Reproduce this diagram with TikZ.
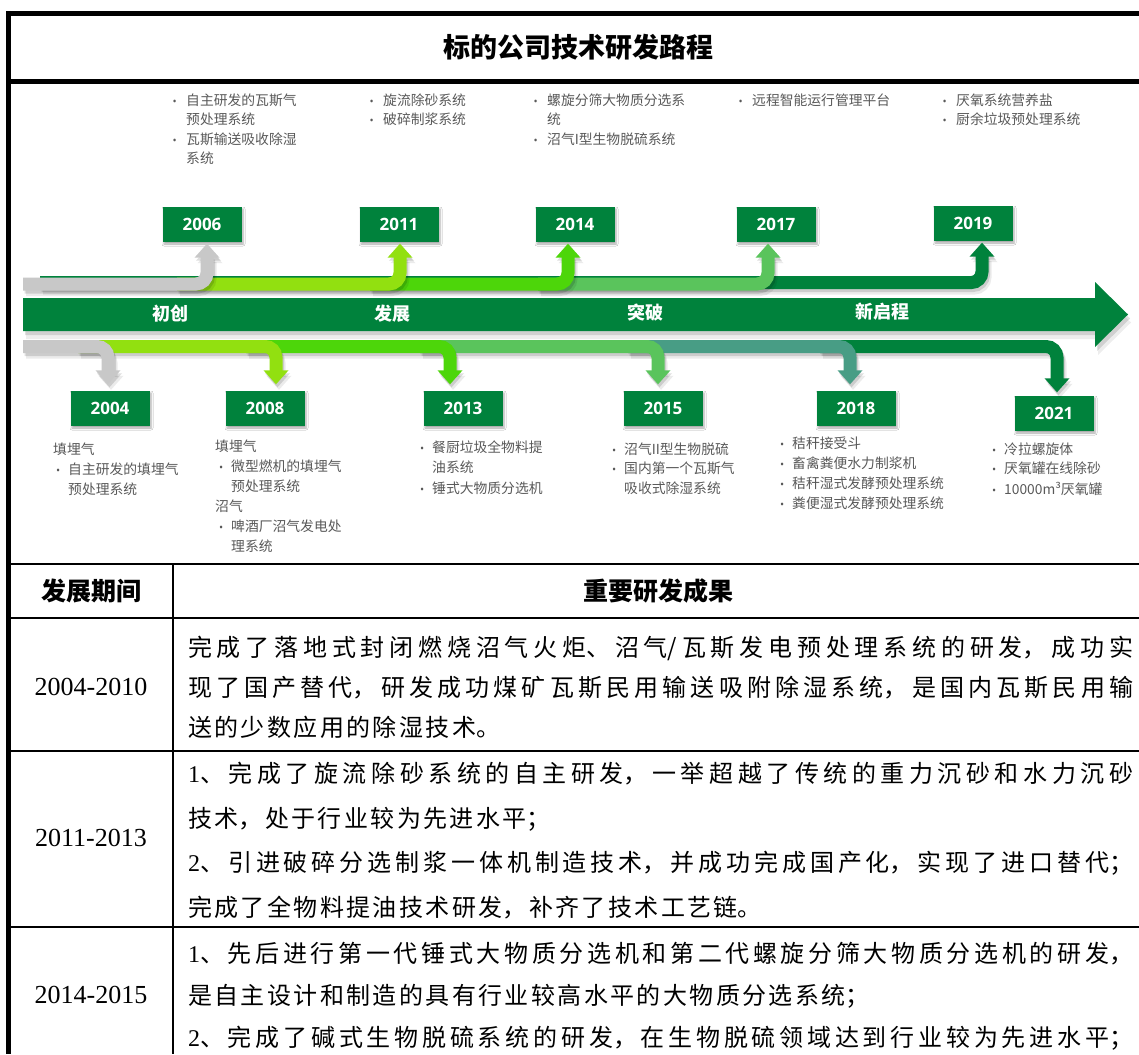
\documentclass[tikz,border=0pt]{standalone}
\usepackage{fontspec}
\setmainfont{Noto Sans CJK SC}
\newfontfamily\yearfont{Open Sans}
\newfontfamily\tnr{Liberation Serif}
\usetikzlibrary{arrows.meta,shadows.blur}
\definecolor{cDark}{RGB}{0,130,60}
\definecolor{cGray}{RGB}{200,200,200}
\definecolor{cLime}{RGB}{146,224,16}
\definecolor{cBright}{RGB}{77,214,10}
\definecolor{cMed}{RGB}{90,196,92}
\definecolor{cTeal}{RGB}{72,157,133}
\definecolor{cText}{RGB}{89,89,89}
\newcommand\bul{\llap{\makebox[13.5pt][l]{\yearfont\fontsize{11}{11}\selectfont\textbullet}}}
\newcommand\bulb{\llap{\makebox[12pt][l]{\yearfont\fontsize{11}{11}\selectfont\textbullet}}}
\newcommand\jline[1]{\XeTeXlinebreaklocale "zh"\XeTeXlinebreakskip=0pt plus 1fil\relax\parfillskip=0pt\relax\noindent#1\par}
\newcommand\lline[1]{\XeTeXlinebreaklocale "zh"\XeTeXlinebreakskip=2.4pt\relax\parfillskip=0pt plus 1fill\relax\noindent#1\par}
\newcommand\nm[1]{{\tnr #1}}
% #1 colour, #2 start coordinate, #3 arrow-head base coordinate, #4 direction (+1 up, -1 down)
\newcommand\barr[4]{%
  \foreach \dx/\dy/\op in {3/5.5/.08, 1.5/3/.13} {
    \draw[shaft, black, opacity=\op, transform canvas={shift={(\dx pt,-\dy pt)}}] (#2) -- (#2 -| #3) -- ([yshift=#4*1pt]#3);
    \fill[black, opacity=\op, transform canvas={shift={(\dx pt,-\dy pt)}}] ([xshift=-12.5pt]#3) -- ([xshift=12.5pt]#3) -- ([yshift=#4*14pt]#3) -- cycle;}
  \draw[shaft, #1] (#2) -- (#2 -| #3) -- ([yshift=#4*1pt]#3);
  \fill[#1] ([xshift=-12.5pt]#3) -- ([xshift=12.5pt]#3) -- ([yshift=#4*14pt]#3) -- cycle;}
\tikzset{
  shaft/.style={line width=13pt, rounded corners=11pt},
  ybox/.style={fill=cDark, text=white, minimum width=79pt, minimum height=35pt, inner sep=0pt,
    font=\yearfont\bfseries\fontsize{17}{20}\selectfont,
    blur shadow={shadow xshift=1.5pt, shadow yshift=-2.5pt, shadow blur radius=2pt, shadow opacity=35}},
  tl/.style={anchor=base west, inner sep=0pt, text=cText, font=\fontsize{13.8}{16}\selectfont},
  phase/.style={text=white, inner sep=0pt, font=\bfseries\fontsize{18}{20}\selectfont},
  body/.style={anchor=base west, inner sep=0pt, text width=945pt, font=\fontsize{24}{30}\selectfont},
  hdr/.style={inner sep=0pt, font=\bfseries\fontsize{25}{28}\selectfont},
  period/.style={inner sep=0pt, font=\tnr\fontsize{26}{28}\selectfont},
  frame/.style={line width=5pt},
  grid/.style={line width=2.4pt},
}
\begin{document}
\begin{tikzpicture}[x=1pt,y=-1pt]
\useasboundingbox (0,0) rectangle (1139,1054);
\fill[white] (0,0) rectangle (1139,1054);

% title and frame
\node[font=\bfseries\fontsize{27}{30}\selectfont, inner sep=0pt] (title) at (578,47) {标的公司技术研发路程};
\draw[frame] (8.5,11) -- (8.5,1054);
\draw[frame] (6,13.5) -- (1139,13.5);
\draw[frame] (6,81.5) -- (1139,81.5);

% main arrow
\fill[black, opacity=.07, transform canvas={shift={(3pt,-8pt)}}] (23,298) -- (1095,298) -- (1095,282) -- (1128,314.5) -- (1095,347) -- (1095,331) -- (23,331) -- cycle;
\fill[black, opacity=.12, transform canvas={shift={(2pt,-4pt)}}] (23,298) -- (1095,298) -- (1095,282) -- (1128,314.5) -- (1095,347) -- (1095,331) -- (23,331) -- cycle;
\fill[cDark] (23,298) -- (1095,298) -- (1095,282) -- (1128,314.5) -- (1095,347) -- (1095,331) -- (23,331) -- cycle;
\node[phase] (p1) at (170,314) {初创};
\node[phase] (p2) at (392,314) {发展};
\node[phase] (p3) at (645,313) {突破};
\node[phase] (p4) at (882,312) {新启程};

% year boxes
\node[ybox] (y2006) at (202,224) {2006};
\node[ybox] (y2011) at (399,224) {2011};
\node[ybox] (y2014) at (575,224) {2014};
\node[ybox] (y2017) at (776,224) {2017};
\node[ybox] (y2019) at (973,223) {2019};
\node[ybox] (d2004) at (110,408) {2004};
\node[ybox] (d2008) at (265,408) {2008};
\node[ybox] (d2013) at (463,408) {2013};
\node[ybox] (d2015) at (663,408) {2015};
\node[ybox] (d2018) at (856,408) {2018};
\node[ybox] (d2021) at (1054,413) {2021};

% start points
\coordinate (s2019) at (40,282.6);
\coordinate (s2017) at (538,284);
\coordinate (s2014) at (370,284);
\coordinate (s2011) at (177,284);
\coordinate (s2006) at (23,284);
\coordinate (t2021) at (820,346.5);
\coordinate (t2018) at (628,346.5);
\coordinate (t2015) at (420,346.5);
\coordinate (t2013) at (246,346.5);
\coordinate (t2008) at (78,346.5);
\coordinate (t2004) at (23,346.5);
% arrow-head bases
\coordinate (a2019) at ([xshift=9pt,yshift=-16pt]y2019.south);
\coordinate (a2017) at ([xshift=-8pt,yshift=-16pt]y2017.south);
\coordinate (a2014) at ([xshift=-7pt,yshift=-16pt]y2014.south);
\coordinate (a2011) at ([xshift=1pt,yshift=-16pt]y2011.south);
\coordinate (a2006) at ([xshift=5pt,yshift=-16pt]y2006.south);
\coordinate (b2021) at ([xshift=3pt,yshift=17pt]d2021.north);
\coordinate (b2018) at ([xshift=-6pt,yshift=20pt]d2018.north);
\coordinate (b2015) at ([xshift=-5pt,yshift=20pt]d2015.north);
\coordinate (b2013) at ([xshift=-13pt,yshift=20pt]d2013.north);
\coordinate (b2008) at ([xshift=11pt,yshift=20pt]d2008.north);
\coordinate (b2004) at ([xshift=-2pt,yshift=20pt]d2004.north);

% upper arrows
\barr{cDark}{s2019}{a2019}{1}
\barr{cMed}{s2017}{a2017}{1}
\barr{cBright}{s2014}{a2014}{1}
\barr{cLime}{s2011}{a2011}{1}
\barr{cGray}{s2006}{a2006}{1}

% lower arrows
\barr{cDark}{t2021}{b2021}{-1}
\barr{cTeal}{t2018}{b2018}{-1}
\barr{cMed}{t2015}{b2015}{-1}
\barr{cBright}{t2013}{b2013}{-1}
\barr{cLime}{t2008}{b2008}{-1}
\barr{cGray}{t2004}{b2004}{-1}

% upper texts
\node[tl] (u1a) at (186,105.3) {\bul 自主研发的瓦斯气};
\node[tl] (u1b) at (186,124.8) {预处理系统};
\node[tl] (u1c) at (186,144.3) {\bul 瓦斯输送吸收除湿};
\node[tl] (u1d) at (186,163.8) {系统};
\node[tl] (u2a) at (383,105.3) {\bul 旋流除砂系统};
\node[tl] (u2b) at (383,124.8) {\bul 破碎制浆系统};
\node[tl] (u3a) at (547,105.3) {\bul 螺旋分筛大物质分选系};
\node[tl] (u3b) at (547,124.8) {统};
\node[tl] (u3c) at (547,144.3) {\bul 沼气I型生物脱硫系统};
\node[tl] (u4a) at (752,105.3) {\bul 远程智能运行管理平台};
\node[tl] (u5a) at (956,105.3) {\bul 厌氧系统营养盐};
\node[tl] (u5b) at (956,124.8) {\bul 厨余垃圾预处理系统};

% lower texts
\node[tl] (l1a) at (53,454.3) {填埋气};
\node[tl] (l1b) at (68,474.3) {\bulb 自主研发的填埋气};
\node[tl] (l1c) at (68,494.3) {预处理系统};
\node[tl] (l2a) at (215,451.3) {填埋气};
\node[tl] (l2b) at (231,471.3) {\bulb 微型燃机的填埋气};
\node[tl] (l2c) at (231,491.3) {预处理系统};
\node[tl] (l2d) at (215,511.3) {沼气};
\node[tl] (l2e) at (231,531.3) {\bulb 啤酒厂沼气发电处};
\node[tl] (l2f) at (231,551.3) {理系统};
\node[tl] (l3a) at (432,452.3) {\bulb 餐厨垃圾全物料提};
\node[tl] (l3b) at (432,472.3) {油系统};
\node[tl] (l3c) at (432,493.3) {\bulb 锤式大物质分选机};
\node[tl] (l4a) at (624,454.3) {\bulb 沼气II型生物脱硫};
\node[tl] (l4b) at (624,473.3) {\bulb 国内第一个瓦斯气};
\node[tl] (l4c) at (624,493.3) {吸收式除湿系统};
\node[tl] (l5a) at (792,448.3) {\bulb 秸秆接受斗};
\node[tl] (l5b) at (792,468.3) {\bulb 畜禽粪便水力制浆机};
\node[tl] (l5c) at (792,488.3) {\bulb 秸秆湿式发酵预处理系统};
\node[tl] (l5d) at (792,508.3) {\bulb 粪便湿式发酵预处理系统};
\node[tl] (l6a) at (1004,454.3) {\bulb 冷拉螺旋体};
\node[tl] (l6b) at (1004,473.3) {\bulb 厌氧罐在线除砂};
\node[tl] (l6c) at (1004,494.3) {\bulb 10000m³厌氧罐};

% table grid
\draw[grid] (11,564) -- (1139,564);
\draw[grid] (11,618) -- (1139,618);
\draw[grid] (11,751) -- (1139,751);
\draw[grid] (11,927) -- (1139,927);
\draw[grid] (173,564) -- (173,1054);

\node[hdr] (h1) at (91,591) {发展期间};
\node[hdr] (h2) at (658,591) {重要研发成果};

\node[period] (r1) at (91,687) {2004-2010};
\node[period] (r2) at (91,838) {2011-2013};
\node[period] (r3) at (91,995) {2014-2015};

\node[body] (b1a) at (188,656) {\jline{完成了落地式封闭燃烧沼气火炬、沼气/瓦斯发电预处理系统的研发，成功实}};
\node[body] (b1b) at (188,696) {\jline{现了国产替代，研发成功煤矿瓦斯民用输送吸附除湿系统，是国内瓦斯民用输}};
\node[body] (b1c) at (188,736) {\lline{送的少数应用的除湿技术。}};

\node[body] (b2a) at (188,782) {\jline{\nm{1}、完成了旋流除砂系统的自主研发，一举超越了传统的重力沉砂和水力沉砂}};
\node[body] (b2b) at (188,827) {\lline{技术，处于行业较为先进水平；}};
\node[body] (b2c) at (188,871) {\jline{\nm{2}、引进破碎分选制浆一体机制造技术，并成功完成国产化，实现了进口替代；}};
\node[body] (b2d) at (188,916) {\lline{完成了全物料提油技术研发，补齐了技术工艺链。}};

\node[body] (b3a) at (188,962) {\jline{\nm{1}、先后进行第一代锤式大物质分选机和第二代螺旋分筛大物质分选机的研发，}};
\node[body] (b3b) at (188,1004) {\lline{是自主设计和制造的具有行业较高水平的大物质分选系统；}};
\node[body] (b3c) at (188,1046) {\jline{\nm{2}、完成了碱式生物脱硫系统的研发，在生物脱硫领域达到行业较为先进水平；}};
\end{tikzpicture}
\end{document}
